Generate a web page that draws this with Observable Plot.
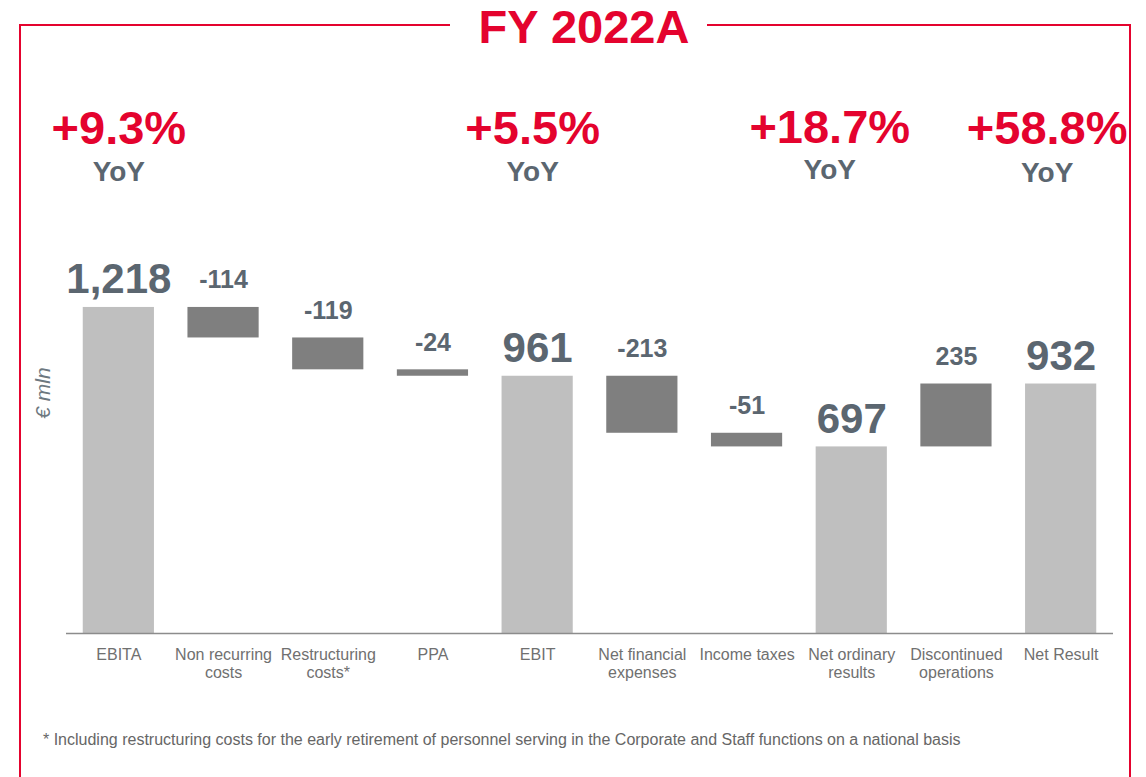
<!DOCTYPE html>
<html>
<head>
<meta charset="utf-8">
<script src="https://cdn.jsdelivr.net/npm/d3@7"></script>
<script src="https://cdn.jsdelivr.net/npm/@observablehq/plot@0.6"></script>
<style>
  html, body { margin: 0; padding: 0; background: #fff; }
  body { width: 1146px; height: 777px; overflow: hidden; position: relative; font-family: "Liberation Sans", Arial, sans-serif; }
  .frame-v { position: absolute; top: 24px; width: 2px; height: 800px; background: #e4032e; }
  .frame-h { position: absolute; top: 24px; height: 2px; background: #e4032e; }
  #title { position: absolute; left: 0; width: 1168px; top: 0px; text-align: center; font-size: 47px; font-weight: bold; color: #e4032e; line-height: 54px; }
  #ylabel { position: absolute; left: 43px; top: 393px; transform: translate(-50%, -50%) rotate(-90deg); font-size: 21px; font-style: italic; color: #6d7880; white-space: nowrap; }
  #foot { position: absolute; left: 43px; top: 731px; font-size: 16px; color: #666; white-space: nowrap; }
  #chart { position: absolute; left: 0; top: 0; }
</style>
</head>
<body>
<div class="frame-v" style="left:19px"></div>
<div class="frame-v" style="left:1129px"></div>
<div class="frame-h" style="left:19px; width:431px"></div>
<div class="frame-h" style="left:707px; width:424px"></div>
<div id="title">FY 2022A</div>
<div id="ylabel">€ mln</div>
<div id="chart"></div>
<div id="foot">* Including restructuring costs for the early retirement of personnel serving in the Corporate and Staff functions on a national basis</div>
<script>
// ---- data ----
const categories = ["EBITA", "Non recurring costs", "Restructuring costs*", "PPA", "EBIT",
  "Net financial expenses", "Income taxes", "Net ordinary results", "Discontinued operations", "Net Result"];
const tickLabels = ["EBITA", "Non recurring\ncosts", "Restructuring\ncosts*", "PPA", "EBIT",
  "Net financial\nexpenses", "Income taxes", "Net ordinary\nresults", "Discontinued\noperations", "Net Result"];
const values = [1218, -114, -119, -24, 961, -213, -51, 697, 235, 932];
const kinds = ["total", "delta", "delta", "delta", "total", "delta", "delta", "total", "delta", "total"];
const valueLabels = ["1,218", "-114", "-119", "-24", "961", "-213", "-51", "697", "235", "932"];
const yoyCategories = ["EBITA", "EBIT", "Net ordinary results", "Net Result"];
const yoyLabels = ["+9.3%", "+5.5%", "+18.7%", "+58.8%"];

// ---- waterfall rows ----
let run = 0;
const rows = categories.map((c, i) => {
  let y1, y2;
  if (kinds[i] === "total") { y1 = 0; y2 = values[i]; run = values[i]; }
  else { y1 = run; y2 = run + values[i]; run = y2; }
  return { cat: c, y1, y2, top: Math.max(y1, y2), kind: kinds[i], label: valueLabels[i] };
});
const yoyRows = yoyCategories.map((c, i) => ({ cat: c, label: yoyLabels[i] }));

const red = "#e4032e";
const slate = "#5b6670";
const yoyDx = [0, -5, -22, -14];
const yoyPctDy = [-142, -142, -143, -142];
const yoyWordDy = [-105, -105, -107, -104];

const yoyMarks = yoyRows.flatMap((r, i) => [
  Plot.text([r], { x: "cat", frameAnchor: "top", text: "label", dx: yoyDx[i], dy: yoyPctDy[i], lineAnchor: "bottom",
    fontSize: 47, fontWeight: "bold", fill: red }),
  Plot.text([r], { x: "cat", frameAnchor: "top", text: () => "YoY", dx: yoyDx[i], dy: yoyWordDy[i], lineAnchor: "bottom",
    fontSize: 28, fontWeight: "bold", fill: slate })
]);

const chart = Plot.plot({
  width: 1146,
  height: 700,
  marginLeft: 66,
  marginRight: 33,
  marginTop: 285,
  marginBottom: 67,
  style: { fontFamily: '"Liberation Sans", Arial, sans-serif', overflow: "visible", background: "transparent" },
  x: { domain: categories, paddingInner: 0.32, paddingOuter: 0.16, round: false, label: null },
  y: { domain: [0, 1300], axis: null },
  marks: [
    Plot.barY(rows.filter(d => d.kind === "total"), { x: "cat", y1: "y1", y2: "y2", fill: "#bfbfbf" }),
    Plot.barY(rows.filter(d => d.kind === "delta"), { x: "cat", y1: "y1", y2: "y2", fill: "#7f7f7f" }),
    Plot.ruleY([0], { stroke: "#8c8c8c", strokeWidth: 1.5 }),
    Plot.axisX({ tickSize: 0, tickPadding: 14, fontSize: 16, color: "#707070", fill: "#707070", lineHeight: 1.12,
      tickFormat: c => tickLabels[categories.indexOf(c)], label: null }),
    Plot.text(rows.filter(d => d.kind === "total"), { x: "cat", y: "top", text: "label", dy: -14, lineAnchor: "bottom",
      fontSize: 42, fontWeight: "bold", fill: slate }),
    Plot.text(rows.filter(d => d.kind === "delta"), { x: "cat", y: "top", text: "label", dy: -19, lineAnchor: "bottom",
      fontSize: 25, fontWeight: "bold", fill: slate }),
    ...yoyMarks
  ]
});
document.getElementById("chart").appendChild(chart);
</script>
</body>
</html>
